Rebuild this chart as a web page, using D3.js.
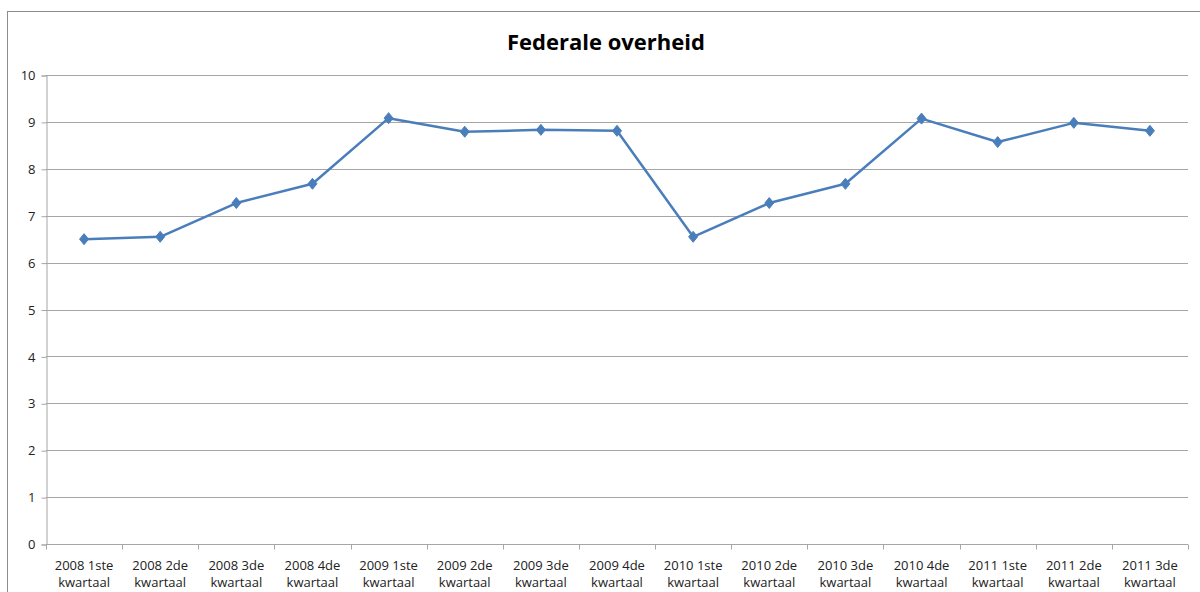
<!DOCTYPE html>
<html>
<head>
<meta charset="utf-8">
<script src="https://cdn.jsdelivr.net/npm/d3@7"></script>
<style>
body { margin: 0; background: #fff; }
svg { display: block; font-family: "Open Sans", "Liberation Sans", sans-serif; }
</style>
</head>
<body>
<svg id="chart" width="1200" height="592"></svg>
<script>
// chart data
var quarters = ["2008 1ste kwartaal", "2008 2de kwartaal", "2008 3de kwartaal", "2008 4de kwartaal",
  "2009 1ste kwartaal", "2009 2de kwartaal", "2009 3de kwartaal", "2009 4de kwartaal",
  "2010 1ste kwartaal", "2010 2de kwartaal", "2010 3de kwartaal", "2010 4de kwartaal",
  "2011 1ste kwartaal", "2011 2de kwartaal", "2011 3de kwartaal"];
var scores = [6.50, 6.55, 7.27, 7.68, 9.08, 8.79, 8.83, 8.81, 6.55, 7.27, 7.68, 9.07, 8.57, 8.98, 8.81];
var yTicks = [0, 1, 2, 3, 4, 5, 6, 7, 8, 9, 10];

var svg = d3.select("#chart");
var plotLeft = 46, plotRight = 1188, plotTop = 75, plotBottom = 544;

// outer frame (cut off at right/bottom like the screenshot)
svg.append("rect")
  .attr("x", 7.5).attr("y", 11.5)
  .attr("width", 1200).attr("height", 600)
  .style("fill", "none").style("stroke", "#8c8c8c").style("stroke-width", 1);

svg.append("text")
  .attr("x", 606).attr("y", 50)
  .attr("text-anchor", "middle")
  .style("font-size", "22px").style("font-weight", "bold")
  .style("fill", "#000")
  .text("Federale overheid");

var x = d3.scaleBand().domain(quarters).range([plotLeft, plotRight]);
var y = d3.scaleLinear().domain([0, 10]).range([plotBottom, plotTop]);

// gridlines
svg.append("g").selectAll("line")
  .data(yTicks.filter(function(d){ return d > 0; }))
  .join("line")
  .attr("x1", plotLeft).attr("x2", plotRight)
  .attr("y1", function(d){ return Math.round(y(d)) + 0.5; })
  .attr("y2", function(d){ return Math.round(y(d)) + 0.5; })
  .style("stroke", "#a6a6a6").style("stroke-width", 1);

// y axis
var yAxis = svg.append("g")
  .attr("transform", "translate(" + (plotLeft + 0.5) + ",0.5)")
  .call(d3.axisLeft(y).tickValues(yTicks).tickSize(5).tickPadding(6));
yAxis.select(".domain").style("stroke", "#a6a6a6");
yAxis.selectAll(".tick line").style("stroke", "#a6a6a6");
yAxis.selectAll("text").style("font-size", "13px").style("fill", "#222")
  .style("font-family", "'Open Sans', sans-serif");

// x axis with ticks between categories
var xAxis = svg.append("g").attr("transform", "translate(0," + (plotBottom + 0.5) + ")");
xAxis.append("line")
  .attr("x1", plotLeft).attr("x2", plotRight)
  .style("stroke", "#a6a6a6");
xAxis.selectAll("line.tk")
  .data(quarters.concat(["end"]))
  .join("line").attr("class", "tk")
  .attr("x1", function(d, i){ return Math.round(plotLeft + i * x.bandwidth()) + 0.5; })
  .attr("x2", function(d, i){ return Math.round(plotLeft + i * x.bandwidth()) + 0.5; })
  .attr("y1", 0).attr("y2", 5)
  .style("stroke", "#a6a6a6");

var lbl = xAxis.selectAll("text")
  .data(quarters)
  .join("text")
  .attr("text-anchor", "middle")
  .attr("x", function(d){ return x(d) + x.bandwidth() / 2; })
  .style("font-size", "13px").style("fill", "#222");
lbl.append("tspan")
  .attr("x", function(d){ return x(d) + x.bandwidth() / 2; })
  .attr("y", 25)
  .text(function(d){ var p = d.split(" "); return p[0] + " " + p[1]; });
lbl.append("tspan")
  .attr("x", function(d){ return x(d) + x.bandwidth() / 2; })
  .attr("y", 42)
  .text(function(d){ return d.split(" ")[2]; });

// series line
var line = d3.line()
  .x(function(d, i){ return x(quarters[i]) + x.bandwidth() / 2; })
  .y(function(d){ return y(d); });

svg.append("path")
  .datum(scores)
  .attr("d", line)
  .style("fill", "none")
  .style("stroke", "#4a7ebb")
  .style("stroke-width", 2.5)
  .style("stroke-linejoin", "round");

// diamond markers
svg.append("g").selectAll("path")
  .data(scores)
  .join("path")
  .attr("transform", function(d, i){
    return "translate(" + (x(quarters[i]) + x.bandwidth() / 2) + "," + y(d) + ")";
  })
  .attr("d", "M0,-5.5L4.5,0L0,5.5L-4.5,0Z")
  .style("fill", "#4a7ebb")
  .style("stroke", "#4a7ebb")
  .style("stroke-width", 1);
</script>
</body>
</html>
